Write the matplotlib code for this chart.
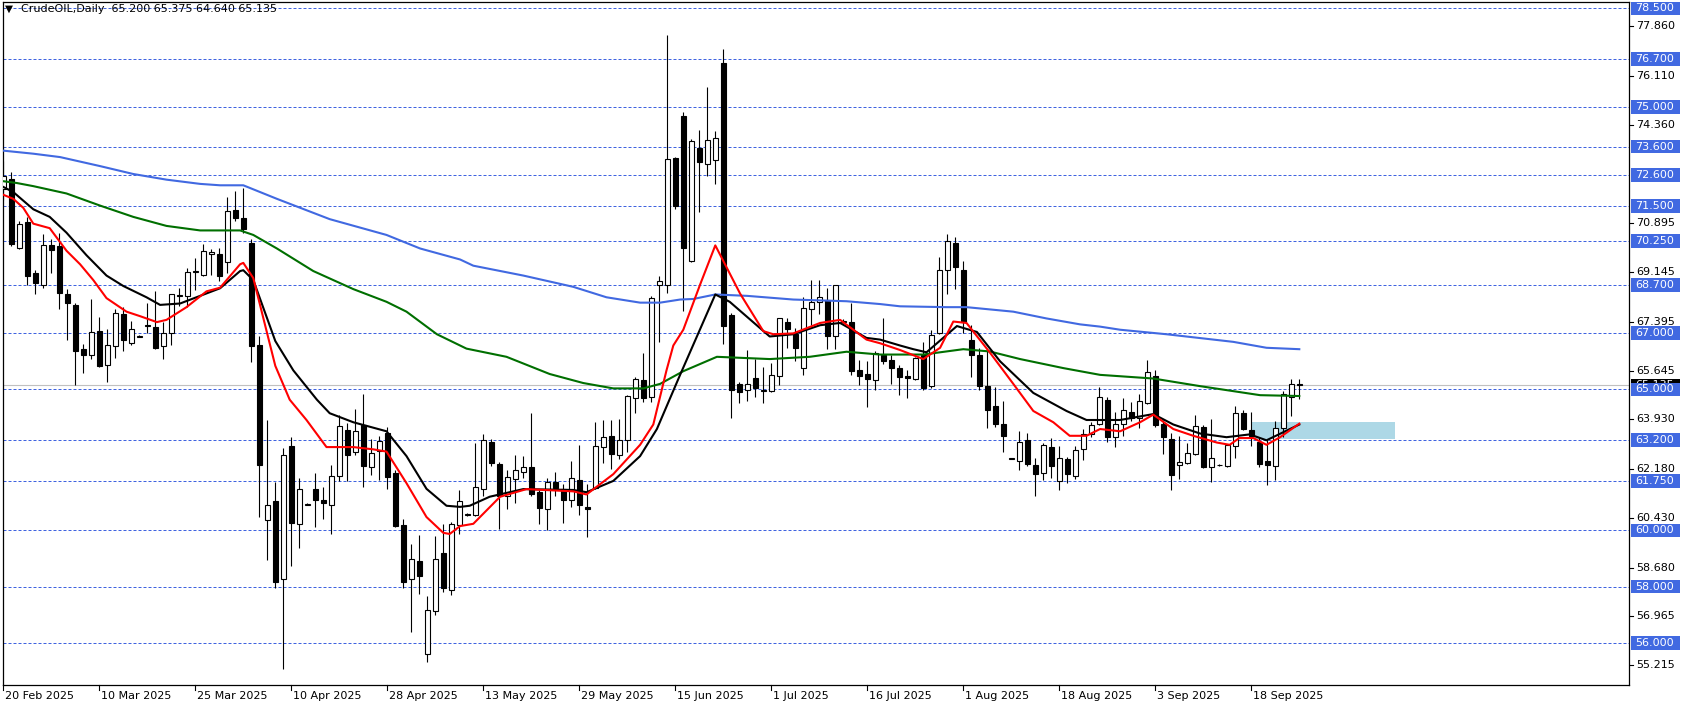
import matplotlib
matplotlib.use('Agg')
import matplotlib.pyplot as plt
import matplotlib.transforms as mtransforms
from matplotlib.patches import Rectangle
import numpy as np

plt.rcParams['font.family'] = ['DejaVu Sans']
plt.rcParams['font.size'] = 8

# daily OHLC, CrudeOIL
opens = [72.10, 72.47, 70.02, 70.92, 69.11, 68.68, 70.10, 70.07, 68.36, 67.99,
         66.42, 66.20, 67.06, 65.86, 66.53, 67.65, 66.63, 66.86, 67.25, 67.22,
         66.55, 66.98, 68.30, 68.31, 69.14, 69.06, 69.80, 69.80, 69.51, 71.35,
         71.08, 70.20, 66.58, 60.35, 61.03, 58.26, 62.98, 60.23, 60.90, 61.46,
         61.06, 60.90, 61.94, 63.56, 62.79, 63.75, 62.23, 62.82, 63.46, 62.02,
         60.18, 58.27, 58.90, 55.63, 57.15, 59.18, 57.87, 60.19, 60.54, 60.55,
         61.46, 63.14, 62.35, 61.23, 61.83, 62.07, 62.23, 61.35, 60.75, 61.70,
         61.48, 61.07, 61.80, 60.83, 61.51, 62.95, 63.35, 62.67, 63.19, 64.68,
         65.32, 64.71, 68.68, 68.68, 73.19, 74.67, 69.54, 73.56, 73.00, 73.11,
         76.56, 67.64, 65.19, 64.99, 65.40, 64.94, 64.95, 65.48, 67.40, 66.95,
         65.75, 67.86, 68.10, 68.15, 66.90, 67.40, 67.38, 65.70, 65.54, 65.32,
         66.23, 66.04, 65.75, 65.48, 65.38, 66.23, 65.11, 66.98, 69.22, 70.20,
         69.22, 66.76, 66.23, 65.11, 64.39, 63.78, 62.54, 62.47, 63.19, 62.31,
         62.02, 62.95, 61.75, 62.51, 61.91, 62.87, 63.43, 63.78, 64.63, 63.30,
         63.78, 64.20, 63.99, 64.50, 65.46, 63.78, 63.24, 62.31, 62.39, 62.71,
         63.67, 62.23, 62.30, 62.27, 62.98, 64.15, 63.56, 63.14, 62.47, 62.27,
         63.62, 64.71, 65.20]
highs = [73.10, 72.71, 70.95, 71.11, 69.22, 70.50, 70.31, 70.55, 68.55, 68.07,
         66.60, 68.20, 67.56, 67.14, 67.83, 67.91, 67.43, 66.92, 68.07, 68.47,
         67.40, 68.39, 68.60, 69.30, 69.64, 70.15, 69.96, 70.02, 71.80, 72.04,
         72.15, 70.34, 66.87, 63.91, 61.71, 62.91, 63.30, 61.86, 60.95, 62.02,
         61.54, 62.31, 64.07, 63.80, 64.31, 64.82, 63.24, 63.35, 63.67, 62.12,
         60.39, 59.50, 59.82, 57.66, 59.79, 60.23, 60.28, 61.43, 60.60, 63.11,
         63.43, 63.24, 62.43, 62.15, 62.66, 62.63, 64.15, 61.43, 61.86, 62.07,
         61.63, 62.47, 63.03, 61.65, 63.83, 63.91, 63.91, 63.94, 64.79, 65.43,
         66.28, 68.31, 69.00, 77.55, 73.25, 74.83, 73.87, 74.20, 75.71, 74.15,
         77.07, 67.70, 65.25, 66.39, 66.07, 65.80, 65.94, 67.54, 67.54, 67.16,
         68.28, 68.87, 68.87, 68.60, 68.71, 67.48, 68.07, 66.02, 65.99, 66.34,
         67.51, 66.23, 65.86, 65.70, 66.15, 66.66, 67.11, 69.70, 70.50, 70.39,
         69.54, 67.27, 66.47, 66.39, 65.08, 64.58, 62.58, 63.51, 63.46, 62.55,
         63.11, 63.27, 62.98, 62.59, 62.99, 63.59, 63.83, 65.08, 64.71, 64.20,
         64.68, 64.55, 64.82, 66.02, 65.70, 63.91, 63.46, 63.35, 63.11, 64.07,
         63.75, 63.94, 62.34, 63.06, 64.39, 64.26, 64.20, 63.30, 63.19, 63.88,
         64.95, 65.36, 65.375]
lows = [71.70, 70.07, 69.96, 68.68, 68.36, 68.58, 69.11, 67.83, 66.76, 65.16,
        65.56, 66.07, 65.80, 65.24, 66.10, 66.36, 66.58, 66.84, 66.98, 66.42,
        66.07, 66.58, 67.96, 67.91, 68.52, 69.00, 69.06, 68.84, 69.11, 70.95,
        70.55, 65.96, 60.47, 58.94, 57.95, 55.10, 58.75, 59.39, 60.88, 60.11,
        60.39, 59.87, 61.75, 61.75, 62.66, 61.54, 61.95, 61.79, 61.46, 60.10,
        57.94, 56.38, 57.74, 55.34, 56.99, 57.82, 57.70, 59.86, 60.50, 60.50,
        61.22, 62.27, 60.03, 60.74, 60.95, 61.86, 61.22, 60.23, 60.02, 61.22,
        60.26, 60.84, 60.55, 59.78, 61.48, 62.39, 62.18, 62.51, 62.79, 64.15,
        64.55, 64.55, 66.66, 68.42, 71.40, 67.78, 69.51, 71.27, 72.55, 72.27,
        66.60, 63.99, 64.50, 64.60, 64.74, 64.50, 64.90, 65.16, 66.47, 65.99,
        65.51, 67.27, 67.67, 66.42, 66.44, 67.36, 65.51, 65.16, 64.36, 64.99,
        65.91, 65.19, 64.79, 64.68, 65.32, 64.99, 65.03, 66.95, 68.39, 68.55,
        66.98, 65.43, 64.99, 63.62, 63.67, 62.79, 62.52, 62.15, 62.28, 61.23,
        61.79, 61.86, 61.43, 61.67, 61.83, 62.50, 63.30, 63.75, 63.14, 62.95,
        63.35, 63.88, 63.62, 64.47, 63.67, 62.71, 61.43, 61.83, 62.34, 62.66,
        62.20, 61.70, 62.28, 62.23, 62.58, 63.54, 62.98, 62.23, 61.59, 61.79,
        63.30, 64.04, 64.64]
closes = [72.55, 70.15, 70.87, 69.03, 68.76, 70.10, 69.94, 68.42, 68.04, 66.36,
          66.23, 67.03, 65.83, 66.58, 67.70, 66.74, 67.14, 66.88, 67.29, 66.47,
          66.98, 68.36, 68.33, 69.14, 69.18, 69.91, 69.88, 69.00, 71.32, 71.06,
          70.68, 66.55, 62.31, 60.91, 58.18, 62.66, 60.26, 61.46, 60.92, 61.07,
          60.95, 61.94, 63.70, 62.67, 63.51, 62.27, 62.74, 63.16, 61.88, 60.15,
          58.18, 58.98, 58.38, 57.18, 58.99, 57.95, 60.23, 61.03, 60.56, 61.54,
          63.19, 62.39, 61.23, 61.88, 62.15, 62.23, 61.27, 60.79, 61.71, 61.51,
          61.06, 61.86, 60.91, 60.74, 62.98, 63.30, 62.71, 63.19, 64.76, 65.38,
          64.68, 68.23, 68.82, 73.15, 71.48, 69.99, 73.79, 73.07, 73.83, 73.91,
          67.24, 64.99, 64.92, 65.19, 65.06, 64.96, 65.51, 67.51, 67.14, 66.47,
          67.88, 68.10, 68.28, 66.87, 68.68, 67.42, 65.64, 65.48, 65.38, 66.28,
          65.99, 65.75, 65.43, 65.41, 66.10, 65.03, 66.92, 69.22, 70.26, 69.35,
          67.40, 66.20, 65.11, 64.26, 63.78, 63.35, 62.56, 63.14, 62.34, 61.99,
          63.03, 62.27, 62.55, 61.99, 62.83, 63.43, 63.72, 64.71, 63.30, 63.78,
          64.26, 63.99, 64.58, 65.62, 63.72, 63.30, 61.95, 62.43, 62.75, 63.70,
          62.23, 62.55, 62.32, 63.03, 64.15, 63.59, 63.35, 62.34, 62.31, 63.64,
          64.82, 65.19, 65.135]

# moving averages, sampled from the chart (bar index, price)
red_x = [-0.4, 1.25, 2.5, 3.75, 5.8, 7.9, 9.6, 11.25, 12.9, 15.4, 17.1, 19.2, 20.4, 22.9, 25.4, 27.1,
         29.6, 30, 31.25, 34, 35.8, 37.9, 40.4, 43.75, 46.25, 47.9, 50.4, 52.9, 55, 55.8, 57.1, 58.75,
         62.1, 65.4, 71.25, 72.9, 76.25, 79.6, 81.25, 82.9, 83.75, 85, 87.1, 89, 92.1, 95, 96.25, 98.75,
         102.1, 104.6, 107.9, 109.6, 112.1, 115, 117.1, 118.75, 120.4, 123.3, 126.25, 128.75, 131.25,
         133.3, 135.4, 137.1, 139.6, 142.1, 143.75, 146.25, 148.75, 151.7, 153.3, 154.5, 156.25, 157.9,
         159.6, 162]
red_y = [71.94, 71.75, 71.43, 70.87, 70.71, 69.91, 69.43, 68.87, 68.23, 67.75, 67.59, 67.38, 67.46, 67.91, 68.47, 68.60,
         69.43, 69.48, 68.94, 65.83, 64.63, 63.91, 62.95, 62.95, 62.87, 62.79, 61.67, 60.47, 59.91, 59.87, 60.15, 60.23,
         61.19, 61.46, 61.38, 61.27, 61.99, 63.03, 63.75, 65.67, 66.55, 67.11, 68.71, 70.10, 68.39, 67.06, 66.95, 66.98,
         67.35, 67.46, 66.76, 66.63, 66.39, 66.07, 66.47, 67.40, 67.35, 66.31, 65.19, 64.23, 63.83,
         63.35, 63.35, 63.59, 63.51, 63.83, 64.10, 63.59, 63.35, 63.11, 63.03, 63.27, 63.27, 63.03,
         63.30, 63.78]

black_x = [-0.4, 1.25, 3.75, 5.8, 7.9, 10.4, 12.9, 15, 17.9, 19.6, 22.1, 24.6, 27.1, 29.6, 30, 31.25,
           34, 36.25, 39.2, 40.8, 43.75, 47.9, 50.4, 52.9, 55.4, 57.1, 58.3, 60.8, 65, 71.25, 72.9, 76.25,
           79.6, 81.7, 84.6, 89, 90.8, 95.8, 98.75, 102.1, 104.6, 107.9, 109.6, 112.1, 113.75, 115.4,
           119.2, 121.7, 124.6, 128.75, 132.9, 135.4, 139.6, 143.75, 146.25, 149.6, 152.9, 155.8, 157.9, 162]
black_y = [72.23, 71.99, 71.38, 71.11, 70.55, 69.75, 69.03, 68.66, 68.26, 67.99, 68.04, 68.31, 68.58, 69.19, 69.22, 68.87,
           66.71, 65.67, 64.63, 64.15, 63.83, 63.51, 62.63, 61.47, 60.87, 60.83, 60.87, 61.19, 61.46, 61.43, 61.35, 61.75,
           62.63, 63.59, 65.51, 68.36, 68.10, 66.87, 66.95, 67.27, 67.35, 66.82, 66.76, 66.55, 66.42, 66.31,
           67.24, 67.03, 65.99, 64.87, 64.23, 63.91, 63.91, 64.12, 63.75, 63.43, 63.30, 63.40, 63.19, 63.75]

green_x = [-0.4, 1.7, 3.75, 7.9, 12.1, 16.25, 20.4, 24.6, 29.6, 31.25, 34.2, 38.75, 43.75, 47.9, 50.4, 54.2,
           57.9, 62.9, 68.3, 72.5, 76.25, 80, 82.1, 85, 89.2, 95.8, 100.8, 105.4, 109.6, 115, 120, 123.3,
           127.1, 132.5, 137.1, 143.75, 149.6, 157.1, 162]
green_y = [72.39, 72.31, 72.20, 71.94, 71.51, 71.11, 70.79, 70.63, 70.63, 70.47, 69.99, 69.19, 68.55, 68.10, 67.75, 66.95,
           66.44, 66.15, 65.54, 65.22, 65.03, 65.03, 65.19, 65.64, 66.15, 66.07, 66.15, 66.33, 66.23, 66.23, 66.42, 66.34,
           66.07, 65.75, 65.51, 65.38, 65.11, 64.79, 64.76]

blue_x = [-0.4, 3.75, 7.1, 12.1, 16.25, 20.4, 24.6, 27.1, 30, 34.2, 40.8, 47.9, 52.1, 57.1, 58.75, 65,
          71.25, 75.4, 79.6, 82.1, 84.6, 86.25, 89, 93, 98.75, 105.4, 109.6, 112.1, 117.9, 120.4, 126.25,
          130.4, 134.6, 137.1, 139.6, 145.4, 153.75, 157.9, 162]
blue_y = [73.47, 73.35, 73.23, 72.91, 72.63, 72.43, 72.28, 72.23, 72.23, 71.75, 71.03, 70.47, 69.99, 69.60, 69.38, 69.03,
          68.63, 68.26, 68.07, 68.07, 68.18, 68.20, 68.36, 68.31, 68.18, 68.12, 68.02, 67.94, 67.91, 67.91, 67.75,
          67.51, 67.30, 67.22, 67.11, 66.95, 66.68, 66.47, 66.42]

# horizontal levels (blue dashed, labelled on the axis)
levels = [78.5, 76.7, 75.0, 73.6, 72.6, 71.5, 70.25, 68.7, 67.0, 65.0, 63.2, 61.75, 60.0, 58.0, 56.0]
axis_ticks = [77.86, 76.11, 74.36, 70.895, 69.145, 67.395, 65.645, 63.93, 62.18, 60.43, 58.68, 56.965, 55.215]
date_labels = ['20 Feb 2025', '10 Mar 2025', '25 Mar 2025', '10 Apr 2025', '28 Apr 2025', '13 May 2025',
               '29 May 2025', '15 Jun 2025', '1 Jul 2025', '16 Jul 2025', '1 Aug 2025', '18 Aug 2025',
               '3 Sep 2025', '18 Sep 2025']
zone_low, zone_high = 63.23, 63.85
zone_start, zone_end = 156, 174

W, H = 1686, 707
fig = plt.figure(figsize=(W / 100, H / 100), dpi=100)
ax = fig.add_axes([2.7 / W, 1 - 684.6 / H, (1629.3 - 2.7) / W, (684.6 - 2.3) / H])
ax.set_xlim(-0.075, 203.25)
ax.set_ylim(54.53, 78.717)
ax.set_xticks([])
ax.set_yticks([])
for s in ax.spines.values():
    s.set_color('black')
    s.set_linewidth(0.9)

# level lines and current price line
for p in levels:
    ax.axhline(p, color='#3f63e0', lw=0.72, linestyle=(0, (3, 2)), zorder=0.5)
ax.axhline(closes[-1], color='#c0c0c0', lw=0.8, zorder=0.6)

# support zone
ax.add_patch(Rectangle((zone_start, zone_low), zone_end - zone_start, zone_high - zone_low,
                       facecolor='#add8e6', edgecolor='none', zorder=1))

# candles
o = np.array(opens); c = np.array(closes); h = np.array(highs); l = np.array(lows)
x = np.arange(len(o))
ax.vlines(x, l, h, color='black', lw=0.8, zorder=2)
up = c >= o
body_lo = np.minimum(o, c)
body_h = np.maximum(np.abs(c - o), 0.03)
ax.bar(x[up], body_h[up], bottom=body_lo[up], width=0.58, color='white',
       edgecolor='black', linewidth=0.8, zorder=3)
ax.bar(x[~up], body_h[~up], bottom=body_lo[~up], width=0.58, color='black',
       edgecolor='black', linewidth=0.8, zorder=3)

# moving averages
ax.plot(blue_x, blue_y, color='#4169e1', lw=1.5, zorder=4)
ax.plot(green_x, green_y, color='#006f00', lw=1.5, zorder=4)
ax.plot(black_x, black_y, color='black', lw=1.5, zorder=4)
ax.plot(red_x, red_y, color='#ff0000', lw=1.5, zorder=4)

# price axis on the right
blend_y = mtransforms.blended_transform_factory(fig.transFigure, ax.transData)
for p in axis_ticks:
    ax.plot([1629.5 / W, 1633 / W], [p, p], transform=blend_y, color='black', lw=0.8, clip_on=False)
    ax.text(1636 / W, p, f'{p:.3f}', transform=blend_y, ha='left', va='center',
            fontsize=8, color='black', clip_on=False)

box_h = 13.4 / 28.21
ax.add_patch(Rectangle((1631 / W, closes[-1] - box_h / 2), 49 / W, box_h, transform=blend_y,
                       facecolor='black', edgecolor='none', clip_on=False, zorder=5))
ax.text(1635 / W, closes[-1], f'{closes[-1]:.3f}', transform=blend_y, ha='left', va='center',
        fontsize=8, color='white', clip_on=False, zorder=5.1)
for p in levels:
    ax.add_patch(Rectangle((1631 / W, p - box_h / 2), 49 / W, box_h, transform=blend_y,
                           facecolor='#4169e1', edgecolor='none', clip_on=False, zorder=6))
    ax.text(1635 / W, p, f'{p:.3f}', transform=blend_y, ha='left', va='center',
            fontsize=8, color='white', clip_on=False, zorder=6.1)

# date axis
blend_x = mtransforms.blended_transform_factory(ax.transData, fig.transFigure)
for k, lab in enumerate(date_labels):
    xi = 12 * k
    ax.plot([xi, xi], [1 - 684.6 / H, 1 - 690 / H], transform=blend_x, color='black', lw=0.8, clip_on=False)
    ax.text(xi + 0.25, 1 - 696 / H, lab, transform=blend_x, ha='left', va='center',
            fontsize=8, color='black', clip_on=False)

# header
fig.text(5 / W, 1 - 9 / H, '\u25bc', fontsize=7.5, ha='left', va='center', color='black')
fig.text(21 / W, 1 - 9 / H, 'CrudeOIL,Daily  65.200 65.375 64.640 65.135',
         fontsize=8, ha='left', va='center', color='black')

fig.savefig('out.png', dpi=100, facecolor='white')
